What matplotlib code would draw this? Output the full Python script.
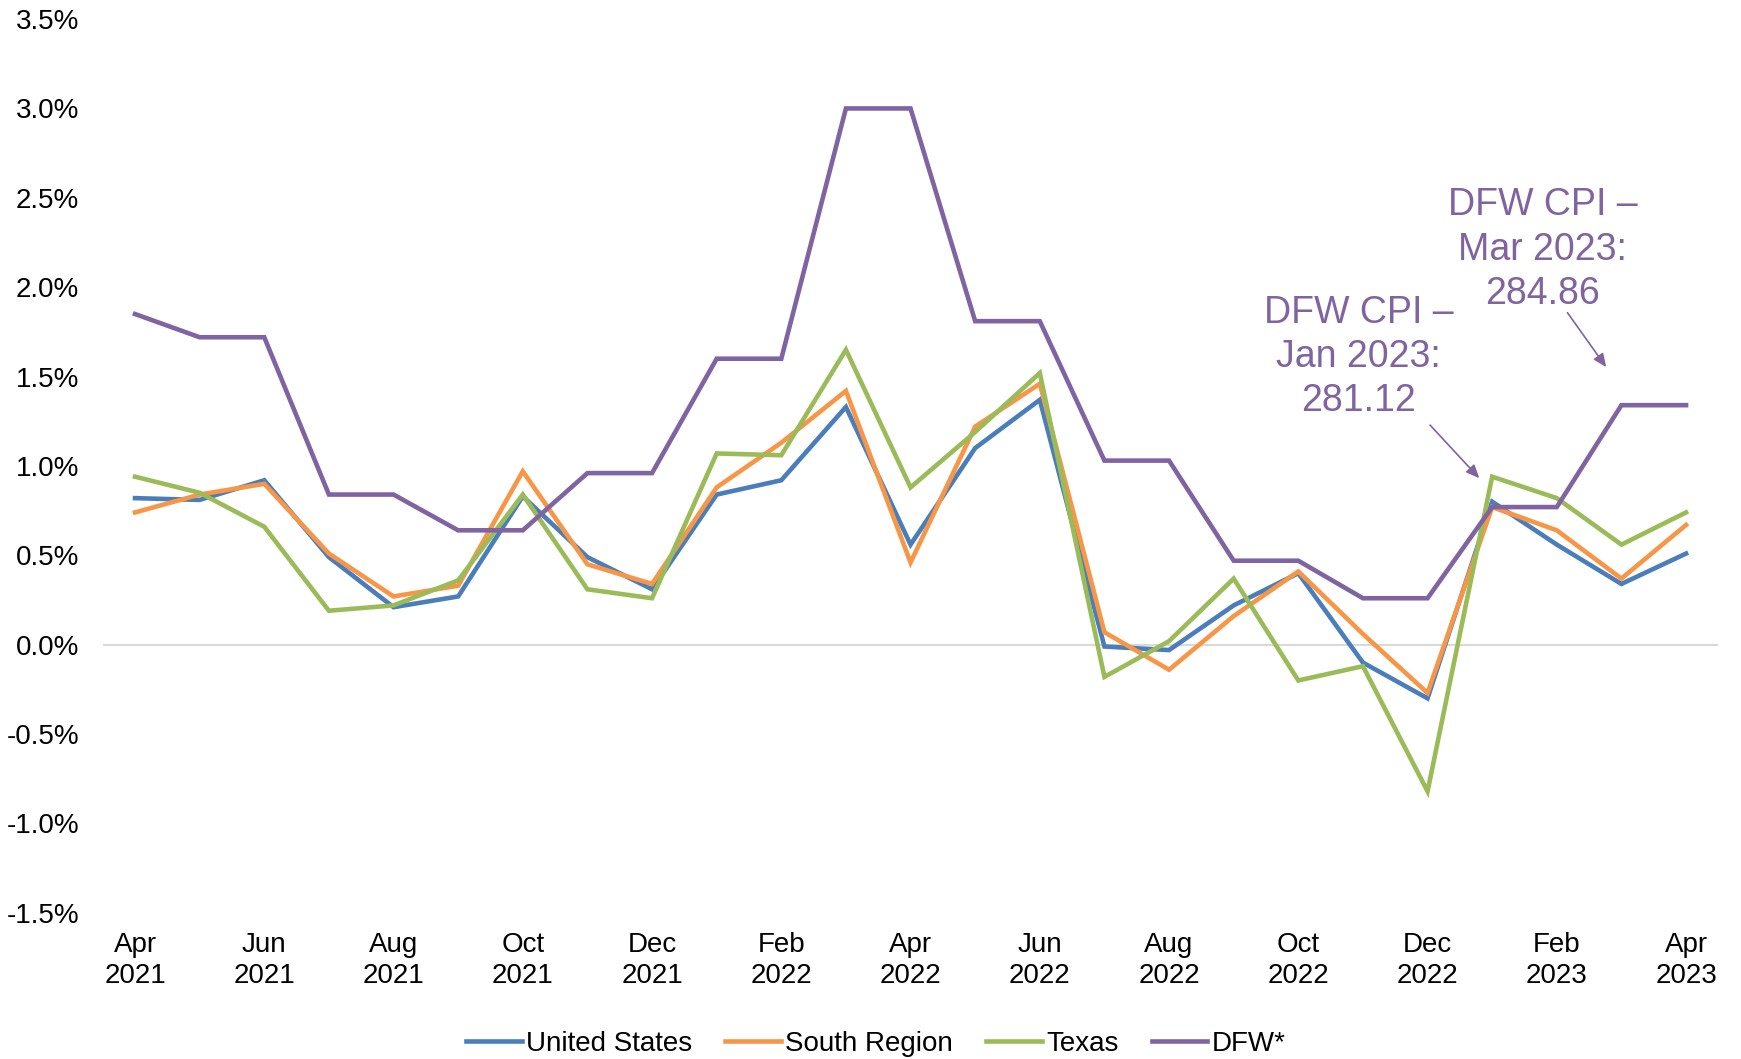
import matplotlib.pyplot as plt

plt.rcParams['font.family'] = ['Liberation Sans', 'DejaVu Sans']

# month-over-month CPI change (%), Apr 2021 .. Apr 2023
months = ['Apr\n2021', 'May\n2021', 'Jun\n2021', 'Jul\n2021', 'Aug\n2021', 'Sep\n2021',
          'Oct\n2021', 'Nov\n2021', 'Dec\n2021', 'Jan\n2022', 'Feb\n2022', 'Mar\n2022',
          'Apr\n2022', 'May\n2022', 'Jun\n2022', 'Jul\n2022', 'Aug\n2022', 'Sep\n2022',
          'Oct\n2022', 'Nov\n2022', 'Dec\n2022', 'Jan\n2023', 'Feb\n2023', 'Mar\n2023',
          'Apr\n2023']

us = [0.82, 0.81, 0.92, 0.49, 0.21, 0.27, 0.83, 0.49, 0.31, 0.84, 0.92, 1.33, 0.56,
      1.10, 1.37, -0.01, -0.03, 0.22, 0.40, -0.10, -0.30, 0.80, 0.56, 0.34, 0.51]
south = [0.74, 0.84, 0.90, 0.51, 0.27, 0.33, 0.97, 0.45, 0.34, 0.88, 1.13, 1.42, 0.46,
         1.22, 1.46, 0.07, -0.14, 0.16, 0.41, 0.06, -0.27, 0.77, 0.64, 0.37, 0.67]
texas = [0.94, 0.85, 0.66, 0.19, 0.22, 0.36, 0.84, 0.31, 0.26, 1.07, 1.06, 1.65, 0.88,
         1.19, 1.52, -0.18, 0.02, 0.37, -0.20, -0.12, -0.82, 0.94, 0.82, 0.56, 0.74]
dfw = [1.85, 1.72, 1.72, 0.84, 0.84, 0.64, 0.64, 0.96, 0.96, 1.60, 1.60, 3.00, 3.00,
       1.81, 1.81, 1.03, 1.03, 0.47, 0.47, 0.26, 0.26, 0.77, 0.77, 1.34, 1.34]

series = [('United States', us, '#4A7EBB'),
          ('South Region', south, '#F79646'),
          ('Texas', texas, '#9BBB59'),
          ('DFW*', dfw, '#8064A2')]

fig = plt.figure(figsize=(17.41, 10.59), dpi=100)
ax = fig.add_axes([0.059, 0.138, 0.928, 0.844])

x = list(range(len(months)))
ax.axhline(0, color='#D9D9D9', lw=1.5, zorder=1)
for name, vals, col in series:
    ax.plot(x, vals, color=col, lw=3.3, label=name, solid_joinstyle='miter', zorder=3)

ax.set_xlim(-0.5, len(months) - 0.5)
ax.set_ylim(-1.5, 3.5)
ax.set_yticks([-1.5, -1.0, -0.5, 0, 0.5, 1.0, 1.5, 2.0, 2.5, 3.0, 3.5])
ax.set_yticklabels(['%.1f%%' % v for v in ax.get_yticks()])
ax.set_xticks(x[::2])
ax.set_xticklabels(months[::2])
ax.tick_params(axis='both', length=0, labelsize=20, colors='black')
ax.tick_params(axis='y', pad=17)
ax.tick_params(axis='x', pad=14)
for lab in ax.get_xticklabels():
    lab.set_linespacing(1.25)
for s in ax.spines.values():
    s.set_visible(False)

# annotations
acol = '#8064A2'
ax.text(18.93, 1.61, 'DFW CPI –\nJan 2023:\n281.12', color=acol, fontsize=27,
        ha='center', va='center', linespacing=1.3)
ax.annotate('', xy=(20.83, 0.92), xytext=(20.01, 1.24),
            arrowprops=dict(arrowstyle='-|>,head_length=0.8,head_width=0.35', color=acol, lw=1.2))
ax.text(21.78, 2.21, 'DFW CPI –\nMar 2023:\n284.86', color=acol, fontsize=27,
        ha='center', va='center', linespacing=1.3)
ax.annotate('', xy=(22.79, 1.54), xytext=(22.14, 1.87),
            arrowprops=dict(arrowstyle='-|>,head_length=0.8,head_width=0.35', color=acol, lw=1.2))

fig.legend(loc='center', bbox_to_anchor=(0.503, 0.014), ncol=4, frameon=False,
           fontsize=20, handlelength=2.0, columnspacing=1.2, handletextpad=0.15)

fig.savefig('out.png', dpi=100)
